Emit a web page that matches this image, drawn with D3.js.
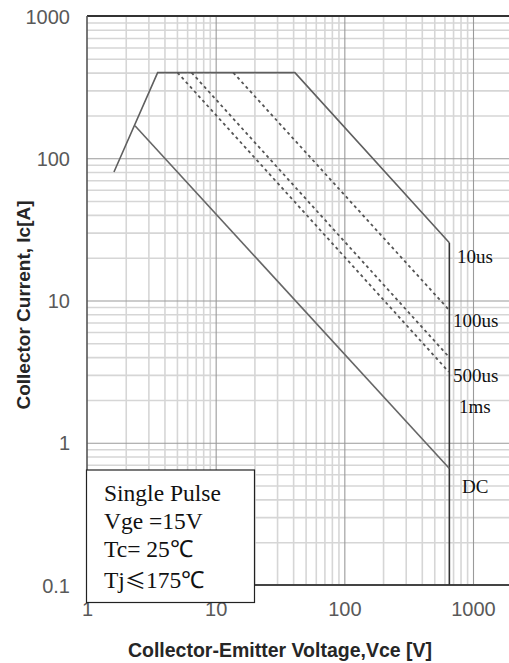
<!DOCTYPE html>
<html><head><meta charset="utf-8">
<script src="https://cdn.jsdelivr.net/npm/d3@7"></script>
<style>
html,body{margin:0;padding:0;background:#fff;}
svg{display:block;}
</style>
</head><body>
<svg id="c" width="509" height="663"></svg>
<script>
// ---- data ----
const xTickLabels = ["1", "10", "100", "1000"];
const yTickLabels = ["0.1", "1", "10", "100", "1000"];
const xMajor = [1, 10, 100, 1000];
const yMajor = [0.1, 1, 10, 100, 1000];
const minorMultipliers = [2, 3, 4, 5, 6, 7, 8, 9];

// SOA boundaries (Vce [V], Ic [A])
const line10usV = [1.62, 3.54, 41.3, 655];
const line10usI = [80, 400, 400, 25.5];
const vLimitV = [655, 655];
const vLimitI = [25.5, 0.1];
const line100usV = [13.7, 650];
const line100usI = [400, 8.6];
const line500usV = [6.5, 652];
const line500usI = [400, 4.0];
const line1msV = [5.05, 648];
const line1msI = [400, 3.15];
const lineDCV = [2.36, 655];
const lineDCI = [169, 0.66];

const curveLabels = ["10us", "100us", "500us", "1ms", "DC"];
const curveLabelI = [18.3, 6.55, 2.69, 1.61, 0.44];
const legendLines = [["Single Pulse"], ["Vge =15V"], ["Tc= 25\u2103"], ["Tj", "\u2264", "175\u2103"]];

// ---- scales ----
const pLeft = 87, pRight = 509, pTop = 16, pBottom = 585;
const x = d3.scaleLog().domain([1, 1000]).range([pLeft, 473]);
const y = d3.scaleLog().domain([0.1, 1000]).range([pBottom, pTop]);

const svg = d3.select("#c");

// minor grid values
const xMinor = [], yMinor = [];
xMajor.forEach(d => { if (d < 1000) minorMultipliers.forEach(m => xMinor.push(d * m)); });
yMajor.forEach(d => { if (d < 1000) minorMultipliers.forEach(m => yMinor.push(d * m)); });

// grid via axes
const gx = svg.append("g").attr("transform", `translate(0,${pBottom})`)
  .call(d3.axisBottom(x).tickValues(xMinor).tickSize(-(pBottom - pTop)).tickFormat(""));
gx.select(".domain").remove();
gx.selectAll("line").attr("stroke", "#d6d6d6").attr("stroke-width", 1.6);

const gy = svg.append("g").attr("transform", `translate(${pLeft},0)`)
  .call(d3.axisLeft(y).tickValues(yMinor).tickSize(-(pRight - pLeft)).tickFormat(""));
gy.select(".domain").remove();
gy.selectAll("line").attr("stroke", "#d6d6d6").attr("stroke-width", 1.6);

const gxM = svg.append("g").attr("transform", `translate(0,${pBottom})`)
  .call(d3.axisBottom(x).tickValues(xMajor.slice(1)).tickSize(-(pBottom - pTop)).tickFormat(""));
gxM.select(".domain").remove();
gxM.selectAll("line").attr("stroke", "#9a9a9a").attr("stroke-width", 1.1);

const gyM = svg.append("g").attr("transform", `translate(${pLeft},0)`)
  .call(d3.axisLeft(y).tickValues(yMajor.slice(1, 4)).tickSize(-(pRight - pLeft)).tickFormat(""));
gyM.select(".domain").remove();
gyM.selectAll("line").attr("stroke", "#9a9a9a").attr("stroke-width", 1.1);

// borders
svg.append("line").attr("x1", pLeft).attr("x2", pRight).attr("y1", pTop).attr("y2", pTop)
  .attr("stroke", "#333").attr("stroke-width", 2.2);
svg.append("line").attr("x1", pLeft).attr("x2", pRight).attr("y1", pBottom).attr("y2", pBottom)
  .attr("stroke", "#444").attr("stroke-width", 2);
svg.append("line").attr("x1", pLeft).attr("x2", pLeft).attr("y1", pTop).attr("y2", pBottom)
  .attr("stroke", "#555").attr("stroke-width", 1.6);

// tick labels via axes
const ax = svg.append("g").attr("transform", `translate(0,${pBottom})`)
  .call(d3.axisBottom(x).tickValues(xMajor).tickSize(0).tickPadding(0)
    .tickFormat((d, i) => xTickLabels[i]));
ax.select(".domain").remove();
ax.selectAll("text").attr("y", 31).attr("dy", 0)
  .attr("font-family", "Liberation Sans, Arial, sans-serif").attr("font-size", 20)
  .attr("fill", "#595959");

const ay = svg.append("g").attr("transform", `translate(70,0)`)
  .call(d3.axisLeft(y).tickValues(yMajor).tickSize(0).tickPadding(0)
    .tickFormat((d, i) => yTickLabels[i]));
ay.select(".domain").remove();
ay.selectAll("text").attr("x", 0).attr("dy", "0.36em")
  .attr("font-family", "Liberation Sans, Arial, sans-serif").attr("font-size", 20)
  .attr("fill", "#595959");

// curves
const lineGen = d3.line().x(d => x(d[0])).y(d => y(d[1]));
const zipPts = (vs, is) => vs.map((v, i) => [v, is[i]]);

svg.append("path").datum(zipPts(line10usV, line10usI)).attr("d", lineGen)
  .attr("fill", "none").attr("stroke", "#5f5f5f").attr("stroke-width", 1.6);
svg.append("path").datum(zipPts(vLimitV, vLimitI)).attr("d", lineGen)
  .attr("fill", "none").attr("stroke", "#333").attr("stroke-width", 1.6);
svg.append("path").datum(zipPts(lineDCV, lineDCI)).attr("d", lineGen)
  .attr("fill", "none").attr("stroke", "#666").attr("stroke-width", 1.6);
[[line100usV, line100usI], [line500usV, line500usI], [line1msV, line1msI]].forEach(([vs, is]) => {
  svg.append("path").datum(zipPts(vs, is)).attr("d", lineGen)
    .attr("fill", "none").attr("stroke", "#555").attr("stroke-width", 1.8)
    .attr("stroke-dasharray", "3,3.2");
});

// curve labels
const labelX = [457, 453, 453, 459, 462];
svg.append("g").selectAll("text").data(curveLabels).join("text")
  .attr("x", (d, i) => labelX[i]).attr("y", (d, i) => y(curveLabelI[i]))
  .attr("font-family", "Liberation Serif, Times New Roman, serif").attr("font-size", 19)
  .attr("fill", "#111").text(d => d);

// legend box
svg.append("rect").attr("x", 86.5).attr("y", 470).attr("width", 168).attr("height", 132.5)
  .attr("fill", "#fff").attr("stroke", "#222").attr("stroke-width", 1.2);
const legY = [501, 529, 557, 588];
const legT = svg.append("g").selectAll("text").data(legendLines).join("text")
  .attr("x", 104).attr("y", (d, i) => legY[i])
  .attr("font-family", "Liberation Serif, Times New Roman, serif")
  .attr("font-size", 23.5).attr("fill", "#111");
legT.selectAll("tspan").data(d => d).join("tspan")
  .attr("font-family", t => t === "\u2264" ? "Noto Sans CJK SC, sans-serif" : null)
  .attr("font-size", t => t === "\u2264" ? 21 : null)
  .text(t => t);

// axis titles
svg.append("text").attr("x", 280).attr("y", 657).attr("text-anchor", "middle")
  .attr("font-family", "Liberation Sans, Arial, sans-serif").attr("font-weight", "bold")
  .attr("font-size", 19.5).attr("fill", "#262626").text("Collector-Emitter Voltage,Vce [V]");
svg.append("text").attr("transform", "translate(30,305) rotate(-90)").attr("text-anchor", "middle")
  .attr("font-family", "Liberation Sans, Arial, sans-serif").attr("font-weight", "bold")
  .attr("font-size", 19).attr("fill", "#262626").text("Collector Current, Ic[A]");
</script>
</body></html>
